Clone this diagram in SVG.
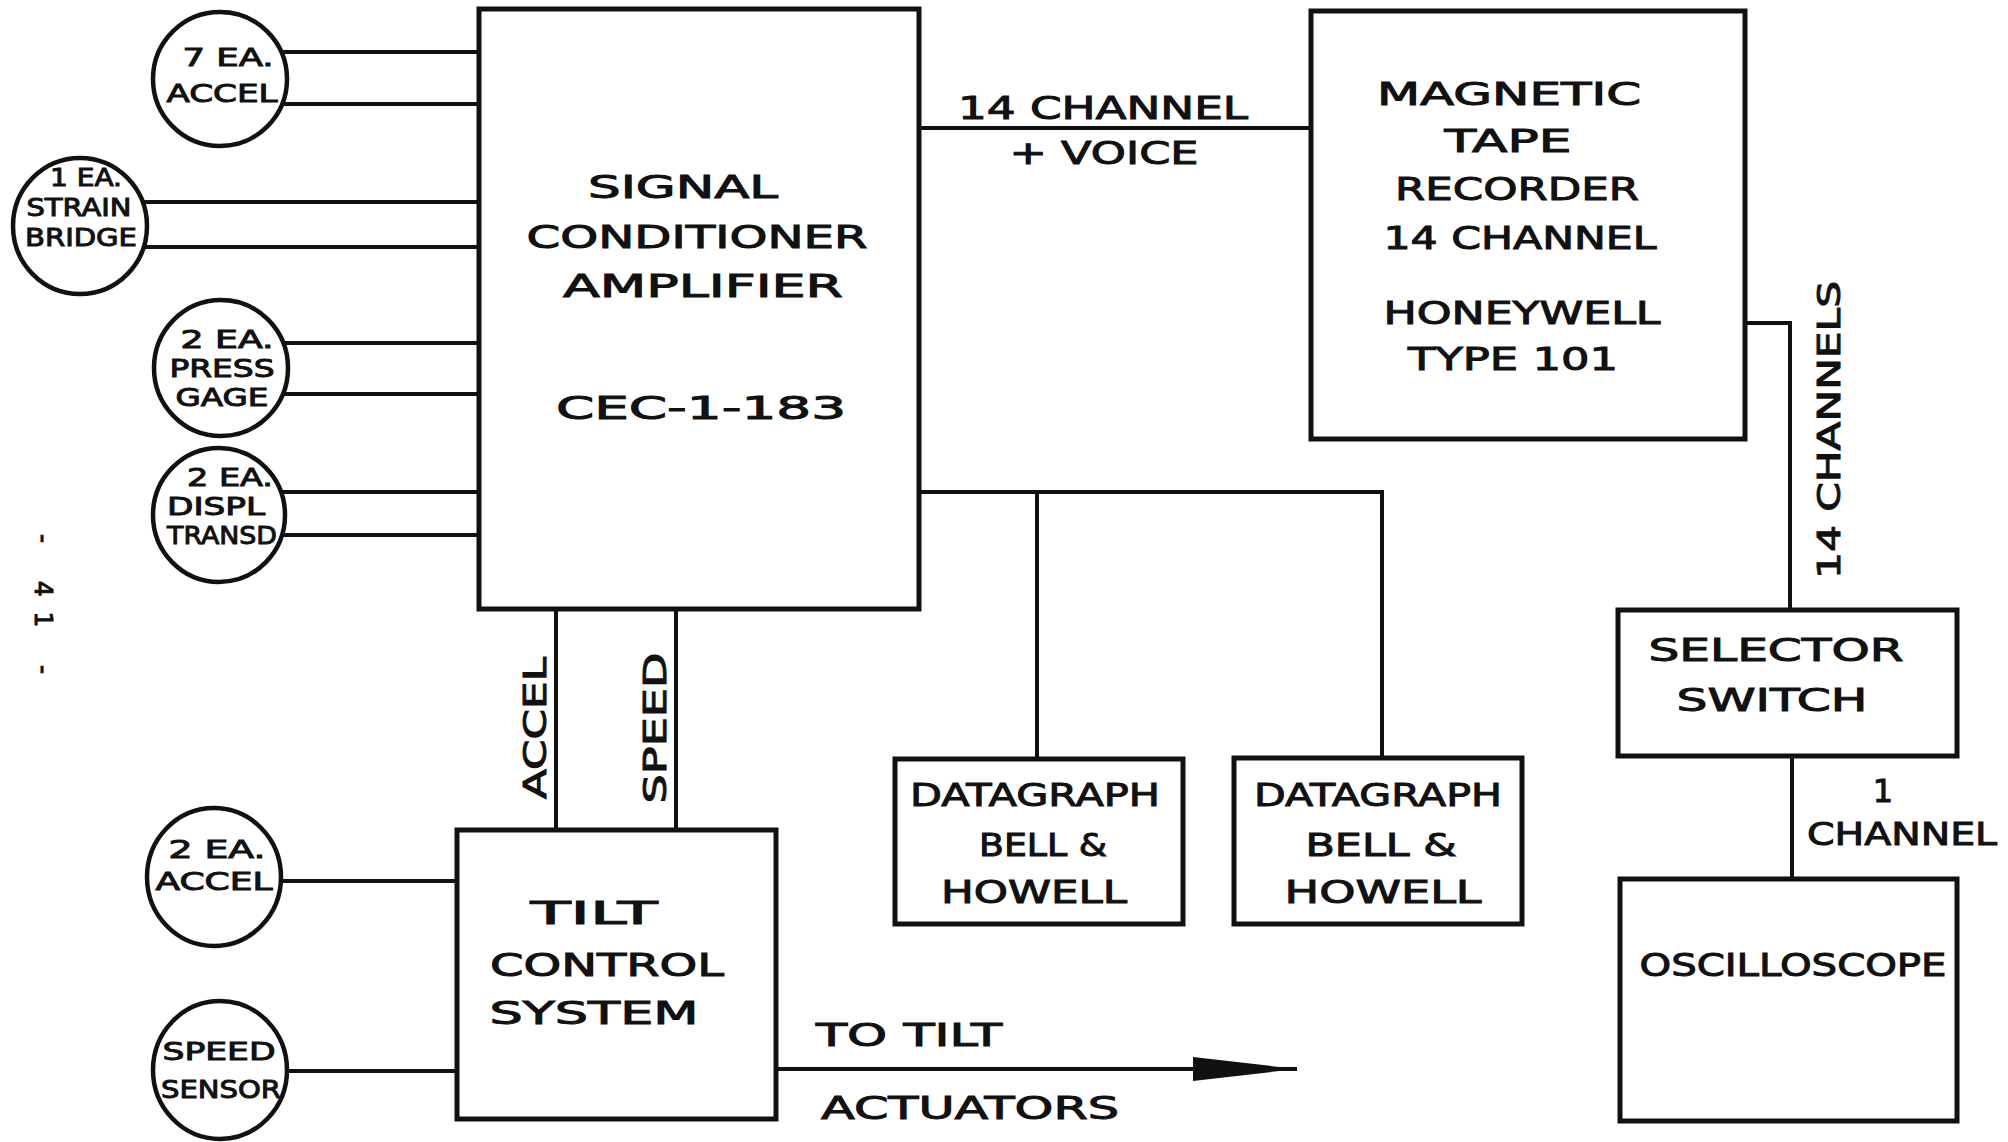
<svg xmlns="http://www.w3.org/2000/svg" width="2008" height="1142" viewBox="0 0 2008 1142">
<defs>
<style>
.box{fill:#fff;stroke:#111;stroke-width:5}
.sens{fill:#fff;stroke:#111;stroke-width:4.5}
.wire{fill:none;stroke:#111;stroke-width:4}
text{font-family:"DejaVu Sans","Liberation Sans",Arial,sans-serif;fill:#111;stroke:#111;stroke-width:1;text-anchor:middle}
.lg{font-size:32px}
.sm{font-size:25px}
</style>
<marker id="arrow" markerUnits="userSpaceOnUse" markerWidth="110" markerHeight="30" refX="104" refY="13" orient="auto">
<polygon points="0,1 104,13 0,25" fill="#111"/>
</marker>
</defs>
<rect width="2008" height="1142" fill="#fff"/>

<g id="connectors">
<line class="wire" x1="220" y1="52" x2="479" y2="52"/>
<line class="wire" x1="220" y1="104" x2="479" y2="104"/>
<line class="wire" x1="80" y1="202" x2="479" y2="202"/>
<line class="wire" x1="80" y1="247" x2="479" y2="247"/>
<line class="wire" x1="221" y1="343" x2="479" y2="343"/>
<line class="wire" x1="221" y1="394" x2="479" y2="394"/>
<line class="wire" x1="219" y1="492" x2="479" y2="492"/>
<line class="wire" x1="219" y1="535" x2="479" y2="535"/>
<line class="wire" x1="214" y1="881" x2="457" y2="881"/>
<line class="wire" x1="220" y1="1071" x2="457" y2="1071"/>
<line class="wire" x1="919" y1="128" x2="1311" y2="128"/>
<path class="wire" d="M1745,323 H1790 V610"/>
<line class="wire" x1="1792" y1="756" x2="1792" y2="879"/>
<path class="wire" d="M919,492 H1382 V758"/>
<line class="wire" x1="1037" y1="492" x2="1037" y2="759"/>
<line class="wire" x1="556" y1="609" x2="556" y2="830"/>
<line class="wire" x1="676" y1="609" x2="676" y2="830"/>
<line class="wire" x1="776" y1="1069" x2="1297" y2="1069" marker-end="url(#arrow)"/>
<text class="lg" x="1103" y="119" textLength="290" lengthAdjust="spacingAndGlyphs">14 CHANNEL</text>
<text class="lg" x="1104" y="164" textLength="189" lengthAdjust="spacingAndGlyphs">+ VOICE</text>
<text class="lg" transform="translate(1840,430) rotate(-90)" textLength="298" lengthAdjust="spacingAndGlyphs">14 CHANNELS</text>
<text class="lg" transform="translate(546,728) rotate(-90)" textLength="142" lengthAdjust="spacingAndGlyphs">ACCEL</text>
<text class="lg" transform="translate(666,728) rotate(-90)" textLength="151" lengthAdjust="spacingAndGlyphs">SPEED</text>
<text class="lg" x="1883" y="802">1</text>
<text class="lg" x="1902" y="845" textLength="190" lengthAdjust="spacingAndGlyphs">CHANNEL</text>
<text class="lg" x="909" y="1046" textLength="186" lengthAdjust="spacingAndGlyphs">TO TILT</text>
<text class="lg" x="970" y="1119" textLength="298" lengthAdjust="spacingAndGlyphs">ACTUATORS</text>
</g>

<g id="sensor-7ea-accel">
<ellipse class="sens" cx="220" cy="79" rx="67" ry="67"/>
<text class="sm" x="228" y="66" textLength="91" lengthAdjust="spacingAndGlyphs">7 EA.</text>
<text class="sm" x="222" y="102" textLength="111" lengthAdjust="spacingAndGlyphs">ACCEL</text>
</g>
<g id="sensor-strain-bridge">
<ellipse class="sens" cx="80" cy="226" rx="67" ry="68"/>
<text class="sm" x="86" y="186" textLength="72" lengthAdjust="spacingAndGlyphs">1 EA.</text>
<text class="sm" x="79" y="216" textLength="105" lengthAdjust="spacingAndGlyphs">STRAIN</text>
<text class="sm" x="81" y="246" textLength="112" lengthAdjust="spacingAndGlyphs">BRIDGE</text>
</g>
<g id="sensor-press-gage">
<ellipse class="sens" cx="221" cy="368" rx="67" ry="68"/>
<text class="sm" x="227" y="348" textLength="93" lengthAdjust="spacingAndGlyphs">2 EA.</text>
<text class="sm" x="222" y="377" textLength="105" lengthAdjust="spacingAndGlyphs">PRESS</text>
<text class="sm" x="222" y="406" textLength="93" lengthAdjust="spacingAndGlyphs">GAGE</text>
</g>
<g id="sensor-displ-transd">
<ellipse class="sens" cx="219" cy="515" rx="66" ry="67"/>
<text class="sm" x="230" y="486" textLength="86" lengthAdjust="spacingAndGlyphs">2 EA.</text>
<text class="sm" x="216" y="515" textLength="98" lengthAdjust="spacingAndGlyphs">DISPL</text>
<text class="sm" x="222" y="544" textLength="110" lengthAdjust="spacingAndGlyphs">TRANSD</text>
</g>
<g id="sensor-2ea-accel">
<ellipse class="sens" cx="214" cy="877" rx="67" ry="69"/>
<text class="sm" x="217" y="858" textLength="97" lengthAdjust="spacingAndGlyphs">2 EA.</text>
<text class="sm" x="214" y="890" textLength="117" lengthAdjust="spacingAndGlyphs">ACCEL</text>
</g>
<g id="sensor-speed">
<ellipse class="sens" cx="220" cy="1070" rx="67" ry="69"/>
<text class="sm" x="219" y="1060" textLength="113" lengthAdjust="spacingAndGlyphs">SPEED</text>
<text class="sm" x="221" y="1098" textLength="120" lengthAdjust="spacingAndGlyphs">SENSOR</text>
</g>

<g id="signal-conditioner">
<rect class="box" x="479" y="9" width="440" height="600"/>
<text class="lg" x="683" y="198" textLength="190" lengthAdjust="spacingAndGlyphs">SIGNAL</text>
<text class="lg" x="697" y="248" textLength="341" lengthAdjust="spacingAndGlyphs">CONDITIONER</text>
<text class="lg" x="703" y="297" textLength="280" lengthAdjust="spacingAndGlyphs">AMPLIFIER</text>
<text class="lg" x="701" y="419" textLength="290" lengthAdjust="spacingAndGlyphs">CEC-1-183</text>
</g>
<g id="tape-recorder">
<rect class="box" x="1311" y="11" width="434" height="428"/>
<text class="lg" x="1509" y="105" textLength="264" lengthAdjust="spacingAndGlyphs">MAGNETIC</text>
<text class="lg" x="1508" y="152" textLength="127" lengthAdjust="spacingAndGlyphs">TAPE</text>
<text class="lg" x="1517" y="200" textLength="244" lengthAdjust="spacingAndGlyphs">RECORDER</text>
<text class="lg" x="1520" y="249" textLength="273" lengthAdjust="spacingAndGlyphs">14 CHANNEL</text>
<text class="lg" x="1522" y="324" textLength="277" lengthAdjust="spacingAndGlyphs">HONEYWELL</text>
<text class="lg" x="1513" y="370" textLength="210" lengthAdjust="spacingAndGlyphs">TYPE 101</text>
</g>
<g id="selector-switch">
<rect class="box" x="1618" y="610" width="339" height="146"/>
<text class="lg" x="1776" y="661" textLength="255" lengthAdjust="spacingAndGlyphs">SELECTOR</text>
<text class="lg" x="1772" y="711" textLength="191" lengthAdjust="spacingAndGlyphs">SWITCH</text>
</g>
<g id="oscilloscope">
<rect class="box" x="1620" y="879" width="337" height="242"/>
<text class="lg" x="1793" y="976" textLength="307" lengthAdjust="spacingAndGlyphs">OSCILLOSCOPE</text>
</g>
<g id="tilt-control">
<rect class="box" x="457" y="830" width="319" height="289"/>
<text class="lg" x="594" y="924" textLength="127" lengthAdjust="spacingAndGlyphs">TILT</text>
<text class="lg" x="607" y="976" textLength="234" lengthAdjust="spacingAndGlyphs">CONTROL</text>
<text class="lg" x="594" y="1024" textLength="209" lengthAdjust="spacingAndGlyphs">SYSTEM</text>
</g>
<g id="datagraph-1">
<rect class="box" x="895" y="759" width="288" height="165"/>
<text class="lg" x="1035" y="806" textLength="250" lengthAdjust="spacingAndGlyphs">DATAGRAPH</text>
<text class="lg" x="1043" y="856" textLength="128" lengthAdjust="spacingAndGlyphs">BELL &amp;</text>
<text class="lg" x="1034" y="903" textLength="186" lengthAdjust="spacingAndGlyphs">HOWELL</text>
</g>
<g id="datagraph-2">
<rect class="box" x="1234" y="758" width="288" height="166"/>
<text class="lg" x="1378" y="806" textLength="248" lengthAdjust="spacingAndGlyphs">DATAGRAPH</text>
<text class="lg" x="1381" y="856" textLength="151" lengthAdjust="spacingAndGlyphs">BELL &amp;</text>
<text class="lg" x="1383" y="903" textLength="197" lengthAdjust="spacingAndGlyphs">HOWELL</text>
</g>
<g id="page-number">
<text class="sm" transform="translate(35,604) rotate(90)" textLength="140">- 41 -</text>
</g>
</svg>
